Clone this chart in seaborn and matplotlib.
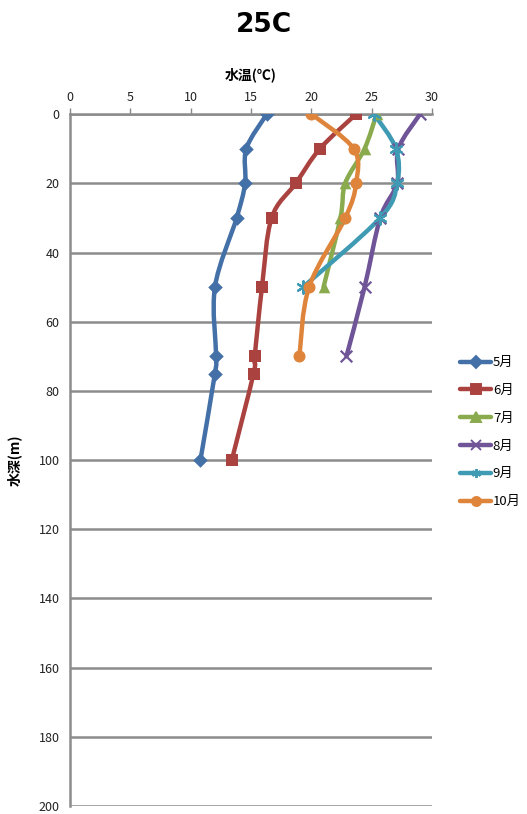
import matplotlib
matplotlib.use("Agg")
import matplotlib.pyplot as plt
from matplotlib.path import Path
from matplotlib.patches import PathPatch
from matplotlib.lines import Line2D
import numpy as np
import pandas as pd
import seaborn as sns

# ---------------------------------------------------------------------------
# Data: water temperature (C) by depth (m), per month
# ---------------------------------------------------------------------------
months = ["5月", "6月", "7月", "8月", "9月", "10月"]

depth_may = [0, 10, 20, 30, 50, 70, 75, 100]
temp_may = [16.3, 14.6, 14.5, 13.8, 12.0, 12.1, 12.0, 10.8]

depth_jun = [0, 10, 20, 30, 50, 70, 75, 100]
temp_jun = [23.7, 20.7, 18.7, 16.7, 15.9, 15.3, 15.2, 13.4]

depth_jul = [0, 10, 20, 30, 50]
temp_jul = [25.4, 24.4, 22.8, 22.4, 21.0]

depth_aug = [0, 10, 20, 30, 50, 70]
temp_aug = [29.0, 27.2, 27.1, 25.7, 24.4, 22.9]

depth_sep = [0, 10, 20, 30, 50]
temp_sep = [25.2, 27.0, 27.1, 25.7, 19.3]

depth_oct = [0, 10, 20, 30, 50, 70]
temp_oct = [20.0, 23.5, 23.7, 22.8, 19.8, 19.0]

series = {
    "5月": (temp_may, depth_may),
    "6月": (temp_jun, depth_jun),
    "7月": (temp_jul, depth_jul),
    "8月": (temp_aug, depth_aug),
    "9月": (temp_sep, depth_sep),
    "10月": (temp_oct, depth_oct),
}

colors = {
    "5月": "#4470A8",
    "6月": "#AA4340",
    "7月": "#8AAA4E",
    "8月": "#6F5597",
    "9月": "#3F9BB3",
    "10月": "#DF843B",
}
markers = {"5月": "D", "6月": "s", "7月": "^", "8月": "x", "9月": (6, 2, 0), "10月": "o"}
msizes = {"5月": 55, "6月": 70, "7月": 70, "8月": 70, "9月": 80, "10月": 75}

rows = []
for m, (t, d) in series.items():
    for ti, di in zip(t, d):
        rows.append({"month": m, "temp": ti, "depth": di})
df = pd.DataFrame(rows)

sns.set_style("white")
plt.rcParams["font.family"] = ["Noto Sans CJK JP", "DejaVu Sans"]


def smooth_path(x, y):
    # Excel-like smoothed line: Catmull-Rom segments as cubic Beziers
    pts = np.column_stack([x, y]).astype(float)
    n = len(pts)
    verts = [pts[0]]
    codes = [Path.MOVETO]
    for i in range(n - 1):
        p0 = pts[i - 1] if i > 0 else pts[i]
        p1 = pts[i]
        p2 = pts[i + 1]
        p3 = pts[i + 2] if i + 2 < n else pts[i + 1]
        c1 = p1 + (p2 - p0) / 6.0
        c2 = p2 - (p3 - p1) / 6.0
        verts += [c1, c2, p2]
        codes += [Path.CURVE4] * 3
    return Path(verts, codes)


fig = plt.figure(figsize=(5.27, 8.14), dpi=100)
ax = fig.add_axes([0.133, 0.0098, 0.687, 0.850])

for m in months:
    sub = df[df["month"] == m]
    patch = PathPatch(smooth_path(sub["temp"], sub["depth"]), facecolor="none",
                      edgecolor=colors[m], lw=3.2, capstyle="round",
                      joinstyle="round", zorder=3)
    ax.add_patch(patch)

for m in months:
    sub = df[df["month"] == m]
    lw = 1.6 if m in ("8月", "9月") else 0
    sns.scatterplot(data=sub, x="temp", y="depth", ax=ax, color=colors[m],
                    marker=markers[m], s=msizes[m], linewidth=lw,
                    edgecolor=colors[m], zorder=4, legend=False)

ax.set_xlim(0, 30)
ax.set_ylim(200, 0)
ax.set_xticks(range(0, 31, 5))
ax.set_yticks(range(0, 201, 20))
ax.xaxis.tick_top()
ax.xaxis.set_label_position("top")
ax.set_xlabel("水温(℃)", fontsize=10, fontweight="bold", labelpad=8, color="black")
ax.set_ylabel("水深(m)", fontsize=10, fontweight="bold", labelpad=12, color="black")
ax.tick_params(axis="both", labelsize=9, length=4, width=1, direction="out")
ax.tick_params(axis="x", colors="#888888", labelcolor="#222222")
ax.tick_params(axis="y", colors="#888888", labelcolor="#222222")

ax.grid(axis="y", color="#8c8c8c", lw=1.8)
ax.set_axisbelow(True)
for side in ("right", "bottom"):
    ax.spines[side].set_visible(False)
for side in ("left", "top"):
    ax.spines[side].set_color("#8c8c8c")
    ax.spines[side].set_linewidth(1.8)

handles = [Line2D([0], [0], color=colors[m], lw=3.2, marker=markers[m],
                  markersize=6.5, markeredgecolor=colors[m],
                  markeredgewidth=1.4) for m in months]
fig.legend(handles, months, loc="center left", bbox_to_anchor=(0.855, 0.469),
           frameon=False, fontsize=9.5, handlelength=2.4, handletextpad=0.1,
           labelspacing=1.12, borderpad=0.2, labelcolor="black")

fig.suptitle("25C", fontsize=19, fontweight="bold", y=0.985,
             family=["DejaVu Sans"], color="black")

fig.savefig("out.png", dpi=100)
